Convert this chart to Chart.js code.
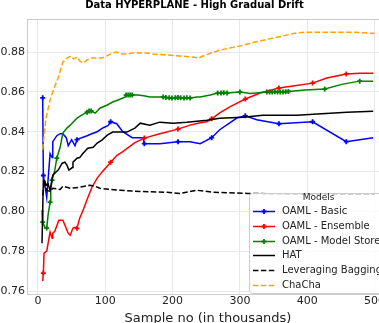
<!DOCTYPE html>
<html>
<head>
<meta charset="utf-8">
<title>Data HYPERPLANE - High Gradual Drift</title>
<script src="https://cdn.jsdelivr.net/npm/chart.js@4.4.1/dist/chart.umd.min.js"></script>
<style>
  html, body { margin: 0; padding: 0; overflow: hidden; background: #fff; }
  #wrap { position: absolute; left: 0; top: 0; width: 416px; height: 330px; }
</style>
</head>
<body>
<div id="wrap"><canvas id="driftChart" width="416" height="330"></canvas></div>
<script>
// Accuracy over the stream, x in thousands of samples

const basicX = [7, 8, 13, 18, 21, 22, 28, 33, 37, 42, 45, 50, 55, 58, 65, 73, 80, 88, 97, 104, 108, 117, 126, 140, 152, 156, 158, 181, 208, 226, 241, 258, 270, 296, 308, 325, 358, 408, 458, 498];
const basicY = [0.857, 0.818, 0.807, 0.829, 0.827, 0.835, 0.838, 0.839, 0.839, 0.837, 0.833, 0.836, 0.833, 0.836, 0.837, 0.838, 0.839, 0.840, 0.842, 0.843, 0.845, 0.844, 0.840, 0.837, 0.837, 0.837, 0.834, 0.834, 0.835, 0.835, 0.834, 0.837, 0.841, 0.847, 0.848, 0.846, 0.844, 0.845, 0.835, 0.837];
const basicMarks = [7, 8, 58, 108, 158, 208, 258, 308, 358, 408, 458];

const ensembleX = [7, 8, 9, 13, 18, 21, 22, 25, 31, 37, 45, 48, 52, 55, 58, 62, 67, 73, 80, 88, 95, 108, 117, 126, 144, 158, 181, 208, 226, 241, 251, 258, 270, 285, 308, 330, 358, 379, 408, 429, 458, 478, 498];
const ensembleY = [0.765, 0.769, 0.779, 0.780, 0.7896, 0.7865, 0.789, 0.790, 0.7956, 0.7956, 0.789, 0.788, 0.7916, 0.792, 0.7915, 0.7966, 0.8006, 0.806, 0.812, 0.8167, 0.8197, 0.8247, 0.828, 0.830, 0.8345, 0.8368, 0.839, 0.8413, 0.8433, 0.8445, 0.845, 0.8465, 0.8495, 0.8525, 0.8564, 0.8594, 0.862, 0.863, 0.8644, 0.867, 0.869, 0.8694, 0.8694];
const ensembleMarks = [8, 58, 108, 158, 208, 258, 308, 358, 408, 458];

const storeX = [6, 7, 10, 13, 15, 18, 19, 21, 25, 28, 33, 37, 43, 48, 52, 58, 65, 73, 76, 79, 85, 92, 103, 111, 119, 129, 131, 134, 137, 140, 149, 159, 166, 171, 186, 190, 195, 199, 204, 208, 212, 217, 221, 226, 236, 241, 256, 267, 272, 276, 281, 300, 315, 325, 340, 344, 348, 352, 356, 360, 364, 368, 372, 397, 426, 453, 478, 498];
const storeY = [0.8006, 0.7946, 0.7921, 0.7916, 0.7981, 0.8046, 0.8106, 0.8157, 0.8207, 0.8267, 0.8323, 0.8393, 0.8418, 0.8433, 0.8448, 0.8468, 0.8483, 0.8498, 0.8504, 0.8504, 0.8493, 0.8518, 0.8534, 0.8549, 0.8559, 0.8574, 0.8584, 0.8584, 0.8584, 0.8584, 0.8584, 0.8579, 0.8574, 0.8574, 0.8574, 0.8572, 0.8570, 0.8569, 0.8570, 0.8572, 0.8570, 0.8569, 0.8570, 0.8569, 0.8574, 0.8574, 0.8584, 0.8594, 0.8594, 0.8596, 0.8594, 0.8599, 0.8592, 0.8595, 0.8599, 0.8600, 0.8599, 0.8601, 0.8600, 0.8599, 0.8600, 0.8601, 0.8602, 0.8609, 0.8614, 0.8639, 0.8654, 0.8654];
const storeMarks = [7, 13, 18, 21, 28, 73, 76, 79, 131, 134, 137, 140, 186, 190, 195, 199, 204, 208, 212, 217, 221, 226, 267, 272, 276, 281, 300, 340, 344, 348, 352, 356, 360, 364, 368, 372, 426, 478];

const hatX = [6, 8, 10, 13, 15, 18, 22, 25, 30, 36, 40, 43, 46, 51, 52, 58, 62, 67, 74, 82, 88, 95, 103, 111, 125, 132, 144, 152, 166, 181, 201, 221, 236, 251, 270, 305, 334, 385, 409, 459, 498];
const hatY = [0.784, 0.8157, 0.8147, 0.8132, 0.8137, 0.8106, 0.8182, 0.8192, 0.8207, 0.8242, 0.8247, 0.8232, 0.8207, 0.822, 0.8247, 0.8267, 0.827, 0.8292, 0.8317, 0.8322, 0.8343, 0.8358, 0.8383, 0.8398, 0.8398, 0.8398, 0.8418, 0.8443, 0.8433, 0.8448, 0.8443, 0.8448, 0.8453, 0.8458, 0.8468, 0.8473, 0.8483, 0.8483, 0.8488, 0.8498, 0.8503];

const baggingX = [7, 10, 13, 18, 22, 33, 37, 48, 62, 77, 85, 92, 107, 122, 152, 192, 211, 236, 260, 311, 360, 410, 460, 500];
const baggingY = [0.808, 0.8157, 0.8106, 0.810, 0.8116, 0.811, 0.8126, 0.8116, 0.8121, 0.8131, 0.8126, 0.8116, 0.811, 0.8106, 0.810, 0.8096, 0.809, 0.8106, 0.8096, 0.809, 0.8088, 0.8086, 0.8086, 0.8086];

const chachaX = [7, 12, 18, 24, 30, 37, 43, 49, 53, 58, 62, 67, 73, 80, 88, 95, 102, 110, 117, 125, 132, 141, 152, 162, 171, 192, 211, 230, 239, 245, 253, 270, 285, 300, 322, 342, 363, 382, 397, 422, 452, 471, 490, 500];
const chachaY = [0.831, 0.847, 0.856, 0.862, 0.867, 0.875, 0.877, 0.878, 0.8765, 0.8775, 0.8755, 0.8745, 0.876, 0.877, 0.877, 0.877, 0.878, 0.8795, 0.880, 0.879, 0.879, 0.8795, 0.8795, 0.8795, 0.879, 0.8785, 0.878, 0.8775, 0.877, 0.878, 0.879, 0.881, 0.882, 0.883, 0.885, 0.8865, 0.888, 0.8895, 0.890, 0.890, 0.890, 0.890, 0.8895, 0.8895];

const FONT = '"DejaVu Sans", sans-serif';

function toPoints(xs, ys) {
    return xs.map((x, i) => ({ x: x, y: ys[i] }));
}

// only show a marker where the sample is in the marks list
function markerAt(marks) {
    return ctx => (ctx.raw && marks.includes(ctx.raw.x)) ? 2.5 : 0;
}

function lineSet(label, color, xs, ys, extra) {
    return Object.assign({
        label: label,
        data: toPoints(xs, ys),
        borderColor: color,
        backgroundColor: color,
        pointBorderColor: color,
        borderWidth: 1.5,
        pointRadius: 0,
        pointBorderWidth: 1.8,
        tension: 0
    }, extra || {});
}

function roundedRect(ctx, x, y, w, h, r) {
    ctx.beginPath();
    ctx.moveTo(x + r, y);
    ctx.lineTo(x + w - r, y);
    ctx.arcTo(x + w, y, x + w, y + r, r);
    ctx.lineTo(x + w, y + h - r);
    ctx.arcTo(x + w, y + h, x + w - r, y + h, r);
    ctx.lineTo(x + r, y + h);
    ctx.arcTo(x, y + h, x, y + h - r, r);
    ctx.lineTo(x, y + r);
    ctx.arcTo(x, y, x + r, y, r);
    ctx.closePath();
}

// light frame on all four sides of the plot
const plotFrame = {
    id: 'plotFrame',
    beforeDatasetsDraw(chart) {
        const { ctx, chartArea: a } = chart;
        ctx.save();
        ctx.strokeStyle = '#cccccc';
        ctx.lineWidth = 1;
        ctx.strokeRect(a.left + 0.5, a.top + 0.5, a.right - a.left - 1, a.bottom - a.top - 1);
        ctx.restore();
    }
};

// matplotlib style legend box in the lower right corner
const modelsLegend = {
    id: 'modelsLegend',
    afterDatasetsDraw(chart) {
        const { ctx, chartArea } = chart;
        const boxW = 139, boxH = 100;
        const left = chartArea.right - boxW - 1;
        const top = chartArea.bottom - boxH - 2;
        ctx.save();
        roundedRect(ctx, left + 0.5, top + 0.5, boxW, boxH, 3);
        ctx.fillStyle = 'rgba(255,255,255,0.8)';
        ctx.fill();
        ctx.strokeStyle = '#cccccc';
        ctx.lineWidth = 1;
        ctx.stroke();

        ctx.fillStyle = '#222';
        ctx.textBaseline = 'middle';
        ctx.textAlign = 'center';
        ctx.font = '9px ' + FONT;
        ctx.fillText('Models', left + boxW / 2, top + 4.5);

        ctx.textAlign = 'left';
        ctx.font = '10px ' + FONT;
        chart.data.datasets.forEach((ds, i) => {
            const y = Math.round(top + 18 + i * 14.8) + 0.5;
            ctx.strokeStyle = ds.borderColor;
            ctx.lineWidth = 1.5;
            ctx.setLineDash(ds.borderDash || []);
            ctx.beginPath();
            ctx.moveTo(left + 4, y);
            ctx.lineTo(left + 26, y);
            ctx.stroke();
            ctx.setLineDash([]);
            if (ds.pointStyle === 'cross') {
                const cx = left + 15;
                ctx.lineWidth = 1.8;
                ctx.beginPath();
                ctx.moveTo(cx - 2.5, y);
                ctx.lineTo(cx + 2.5, y);
                ctx.moveTo(cx, y - 2.5);
                ctx.lineTo(cx, y + 2.5);
                ctx.stroke();
            }
            ctx.fillStyle = '#222';
            ctx.fillText(ds.label, left + 33, y);
        });
        ctx.restore();
    }
};

const datasets = [
    lineSet('OAML - Basic', '#0000ff', basicX, basicY, { pointStyle: 'cross', pointRadius: markerAt(basicMarks), order: 5 }),
    lineSet('OAML - Ensemble', '#ff0000', ensembleX, ensembleY, { pointStyle: 'cross', pointRadius: markerAt(ensembleMarks), order: 4 }),
    lineSet('OAML - Model Store', '#008000', storeX, storeY, { pointStyle: 'cross', pointRadius: markerAt(storeMarks), order: 3 }),
    lineSet('HAT', '#000000', hatX, hatY, { order: 2 }),
    lineSet('Leveraging Bagging', '#000000', baggingX, baggingY, { borderDash: [5.5, 2.4], order: 1 }),
    lineSet('ChaCha', '#ffa500', chachaX, chachaY, { borderDash: [5.5, 2.4], order: 0 })
];

const chart = new Chart(document.getElementById('driftChart'), {
    type: 'line',
    data: { datasets: datasets },
    options: {
        responsive: false,
        animation: false,
        events: [],
        layout: { padding: { left: 0, right: 27, top: 0, bottom: 0 } },
        plugins: {
            legend: { display: false },
            tooltip: { enabled: false },
            title: {
                display: true,
                text: 'Data HYPERPLANE - High Gradual Drift',
                color: '#000',
                font: { family: FONT, size: 10, weight: 'bold' },
                padding: { top: -1, bottom: 8 }
            }
        },
        scales: {
            x: {
                type: 'linear',
                min: -16.3,
                max: 521.5,
                afterFit: s => { s.height = 35; },
                grid: { color: '#e8e8e8', drawTicks: false },
                border: { display: false },
                ticks: {
                    stepSize: 100,
                    includeBounds: false,
                    padding: 0,
                    color: '#222',
                    font: { family: FONT, size: 11 },
                    maxRotation: 0
                },
                title: {
                    display: true,
                    text: 'Sample no (in thousands)',
                    color: '#222',
                    font: { family: FONT, size: 13 },
                    padding: { top: 0, bottom: 4 }
                }
            },
            y: {
                min: 0.758,
                max: 0.8966,
                afterFit: s => { s.width = 27; },
                grid: { color: '#e8e8e8', drawTicks: false },
                border: { display: false },
                ticks: {
                    stepSize: 0.02,
                    includeBounds: false,
                    padding: 2,
                    color: '#222',
                    font: { family: FONT, size: 11 },
                    callback: v => v.toFixed(2)
                }
            }
        }
    },
    plugins: [plotFrame, modelsLegend]
});
</script>
</body>
</html>
